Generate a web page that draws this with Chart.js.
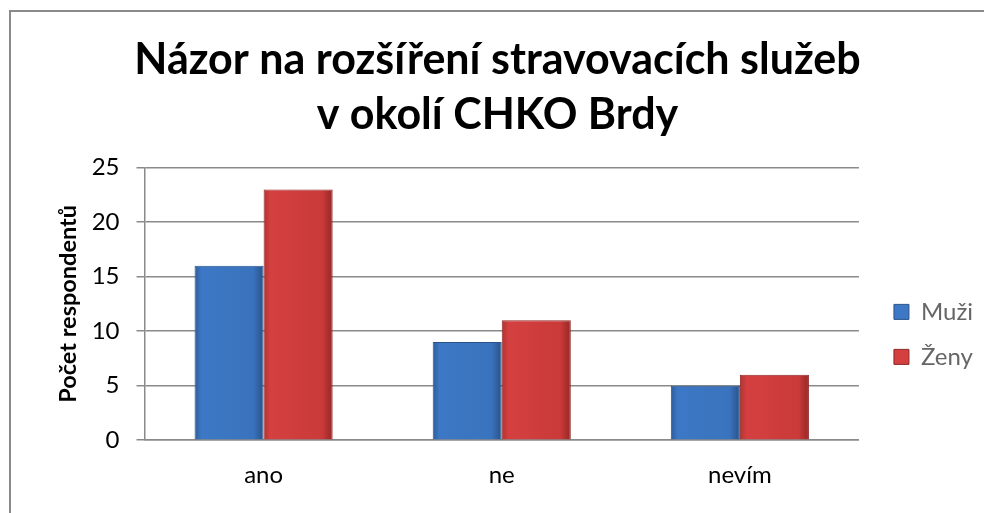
<!DOCTYPE html>
<html>
<head>
<meta charset="utf-8">
<script src="https://cdn.jsdelivr.net/npm/chart.js@4.4.1/dist/chart.umd.min.js"></script>
<style>
  html, body { margin: 0; padding: 0; background: #ffffff; }
  #wrap { position: relative; width: 984px; height: 513px; }
</style>
</head>
<body>
<div id="wrap"><canvas id="c" width="984" height="513"></canvas></div>
<script>
const titleLines = ["Názor na rozšíření stravovacích služeb", "v okolí CHKO Brdy"];
const categories = ["ano", "ne", "nevím"];
const seriesNames = ["Muži", "Ženy"];
const muzi = [16, 9, 5];
const zeny = [23, 11, 6];
const yTicks = [0, 5, 10, 15, 20, 25];
const yAxisTitle = "Počet respondentů";

const FONT = "Lato, Carlito, Calibri, sans-serif";
const CAT_PCT = 0.58;

const palettes = [
  { edgeL: "#2e5b98", body: "#3c78c6", bodyR: "#3a73bd", edgeR: "#28528a", border: "#2a5288" },
  { edgeL: "#b43232", body: "#d4403f", bodyR: "#c93a39", edgeR: "#962626", border: "#8e2626" }
];

function barFill(ctx) {
  const chart = ctx.chart;
  const p = palettes[ctx.datasetIndex];
  const xs = chart.scales.x;
  if (!xs || ctx.dataIndex === undefined) return p.body;
  const center = xs.getPixelForValue(ctx.dataIndex);
  const catW = xs.width / categories.length;
  const w = catW * CAT_PCT / 2;
  const x0 = ctx.datasetIndex === 0 ? center - w : center;
  const x1 = x0 + w;
  if (!isFinite(x0) || !isFinite(x1)) return p.body;
  const g = chart.ctx.createLinearGradient(x0, 0, x1, 0);
  g.addColorStop(0, p.edgeL);
  g.addColorStop(0.1, p.body);
  g.addColorStop(0.85, p.bodyR);
  g.addColorStop(1, p.edgeR);
  return g;
}

const borderPlugin = {
  id: 'outerBorder',
  beforeDraw(chart) {
    const c = chart.ctx;
    c.save();
    c.fillStyle = '#ffffff';
    c.fillRect(0, 0, chart.width, chart.height);
    c.strokeStyle = '#8a8a8a';
    c.lineWidth = 2;
    c.strokeRect(10, 11, chart.width + 20, chart.height + 20);
    c.restore();
  }
};

const legendShift = {
  id: 'legendShift',
  afterLayout(chart) {
    if (chart.legend) { chart.legend.left += 14; chart.legend.right += 14; }
  }
};

new Chart(document.getElementById('c'), {
  type: 'bar',
  data: {
    labels: categories,
    datasets: [
      { label: seriesNames[0], data: muzi, backgroundColor: barFill, borderColor: palettes[0].border, borderWidth: 1 },
      { label: seriesNames[1], data: zeny, backgroundColor: barFill, borderColor: palettes[1].border, borderWidth: 1 }
    ]
  },
  plugins: [borderPlugin, legendShift],
  options: {
    responsive: false,
    animation: false,
    devicePixelRatio: 1,
    layout: { padding: { left: 26, right: 15, top: 29, bottom: 2 } },
    datasets: { bar: { barPercentage: 1.0, categoryPercentage: CAT_PCT } },
    plugins: {
      title: {
        display: true,
        text: titleLines,
        color: '#000000',
        font: { family: FONT, size: 43, weight: 'bold', lineHeight: 1.28 },
        padding: { top: 4, bottom: 24.5 }
      },
      legend: {
        display: true,
        position: 'right',
        fullSize: false,
        align: 'center',
        title: { display: true, text: '', font: { size: 12, lineHeight: 1 }, padding: { top: 0, bottom: 49 } },
        labels: {
          boxWidth: 15,
          boxHeight: 15,
          padding: 21,
          color: '#000000',
          font: { family: FONT, size: 24 },
          generateLabels(chart) {
            return chart.data.datasets.map((ds, i) => ({
              text: ds.label,
              fillStyle: palettes[i].body,
              strokeStyle: palettes[i].border,
              lineWidth: 1,
              datasetIndex: i,
              hidden: false
            }));
          }
        }
      },
      tooltip: { enabled: false }
    },
    scales: {
      x: {
        grid: { display: false, drawTicks: false },
        border: { display: true, color: '#8a8a8a', width: 1.5 },
        ticks: { color: '#000000', font: { family: FONT, size: 24 }, padding: 21 }
      },
      y: {
        min: 0,
        max: 25,
        afterBuildTicks(axis) { axis.ticks = yTicks.map(v => ({ value: v })); },
        grid: { color: '#8a8a8a', lineWidth: 1.5, tickLength: 8, drawTicks: true },
        border: { display: true, color: '#8a8a8a', width: 1.5 },
        ticks: { color: '#000000', font: { family: FONT, size: 24 }, padding: 17 },
        title: {
          display: true,
          text: yAxisTitle,
          color: '#000000',
          font: { family: FONT, size: 23.5, weight: 'bold', lineHeight: 1.2 },
          padding: { top: 28, bottom: -7.5 }
        }
      }
    }
  }
});
</script>
</body>
</html>
